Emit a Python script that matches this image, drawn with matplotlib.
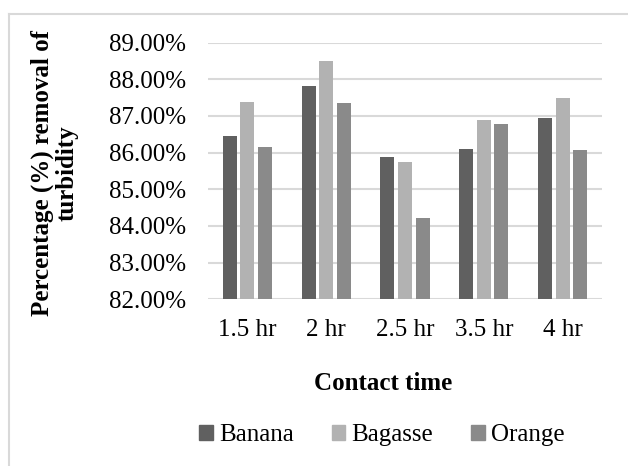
import numpy as np
import matplotlib
matplotlib.use("Agg")
import matplotlib.pyplot as plt
from matplotlib.lines import Line2D
from matplotlib.patches import Patch

# Data
contact_times = ["1.5 hr", "2 hr", "2.5 hr", "3.5 hr", "4 hr"]
banana = [86.46, 87.83, 85.88, 86.10, 86.95]
bagasse = [87.38, 88.51, 85.74, 86.89, 87.49]
orange = [86.15, 87.36, 84.23, 86.77, 86.06]

series_names = ["Banana", "Bagasse", "Orange"]
series_colors = ["#606060", "#b2b2b2", "#8a8a8a"]

plt.rcParams["font.family"] = ["Liberation Serif", "DejaVu Serif"]

W, H = 628, 466
fig = plt.figure(figsize=(W / 100, H / 100), dpi=100)
ax = fig.add_axes([208 / W, 1 - 299.3 / H, (602 - 208) / W, (299.3 - 42.6) / H])

x = np.arange(len(contact_times))
bar_width = 0.178
step = 0.224
offsets = (np.arange(3) - 1) * step

for i, vals in enumerate([banana, bagasse, orange]):
    ax.bar(x + offsets[i], np.array(vals) - 82, bottom=82, width=bar_width,
           color=series_colors[i], label=series_names[i], zorder=3)

ax.set_xlim(-0.5, len(contact_times) - 0.5)
ax.set_ylim(82, 89)
ax.set_yticks(np.arange(82, 89.5, 1))
ax.set_yticklabels([f"{v:.2f}%" for v in np.arange(82, 89.5, 1)])
ax.set_xticks(x)
ax.set_xticklabels(contact_times)
ax.tick_params(axis="both", length=0, labelsize=18, colors="black")
ax.tick_params(axis="y", pad=16)
ax.tick_params(axis="x", pad=14)
ax.grid(axis="y", color="#d9d9d9", linewidth=1.5, zorder=0)
for s in ax.spines.values():
    s.set_visible(False)

# y label (two lines, rotated)
fig.text(55 / W, 1 - 173 / H, "Percentage (%) removal of\nturbidity",
         rotation=90, ha="center", va="center", fontsize=18,
         fontweight="bold", linespacing=1.1, multialignment="center")

# x label
fig.text(383.5 / W, 1 - 383 / H, "Contact time", ha="center", va="center",
         fontsize=18, fontweight="bold")

# legend
handles = [Patch(color=c, label=n) for c, n in zip(series_colors, series_names)]
fig.legend(handles=handles, loc="center", bbox_to_anchor=(382 / W, 1 - 435 / H),
           ncol=3, frameon=False, fontsize=18, handlelength=0.55,
           handleheight=0.55, handletextpad=0.25, columnspacing=1.5,
           borderpad=0, borderaxespad=0)

# chart-area border (only top and left visible in the crop)
fig.add_artist(Line2D([9 / W, 1], [1 - 14 / H, 1 - 14 / H], color="#d9d9d9", lw=1.5))
fig.add_artist(Line2D([9 / W, 9 / W], [0, 1 - 14 / H], color="#d9d9d9", lw=1.5))

fig.savefig("out.png", dpi=100)
